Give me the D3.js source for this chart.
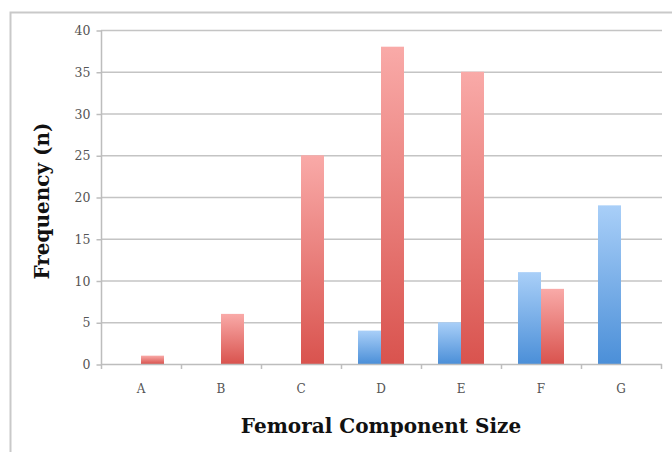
<!DOCTYPE html>
<html><head><meta charset="utf-8">
<script src="https://cdn.jsdelivr.net/npm/d3@7"></script>
<style>body{margin:0;background:#fff}svg{display:block}</style>
</head><body>
<svg id="c" width="672" height="452"></svg>
<script>
const categories = ["A","B","C","D","E","F","G"];
const blueValues = [0,0,0,4,5,11,19];
const redValues  = [1,6,25,38,35,9,0];
const yTicks = [0,5,10,15,20,25,30,35,40];

const svg = d3.select("#c");
const W = 672, H = 452;

// outer frame
svg.append("rect").attr("x",10.5).attr("y",12.5).attr("width",W+20).attr("height",H+20)
  .attr("fill","none").attr("stroke","#c9c9c9").attr("stroke-width",2);

const defs = svg.append("defs");
function grad(id, top, bot){
  const g = defs.append("linearGradient").attr("id",id).attr("x1",0).attr("y1",0).attr("x2",0).attr("y2",1);
  g.append("stop").attr("offset","0%").attr("stop-color",top);
  g.append("stop").attr("offset","100%").attr("stop-color",bot);
}
grad("gb","#a9cff8","#4b8fd8");
grad("gr","#f9aaa8","#d9534e");

const x = d3.scaleBand().domain(categories).range([101,661]);
const y = d3.scaleLinear().domain([0,40]).range([364,30]);
const barW = 23;

// gridlines
svg.append("g").selectAll("line").data(yTicks.filter(d=>d>0)).join("line")
  .attr("x1",101).attr("x2",662).attr("y1",d=>y(d)+0.5).attr("y2",d=>y(d)+0.5)
  .attr("stroke","#c4c4c4").attr("stroke-width",1.5);

// y axis
const ya = svg.append("g").attr("transform","translate(101.5,0.5)")
  .call(d3.axisLeft(y).tickValues(yTicks).tickSize(5).tickPadding(6));
ya.select(".domain").attr("stroke","#bdbdbd").attr("stroke-width",1.5).attr("d","M0,"+y(40)+"V"+y(0));
ya.selectAll(".tick line").attr("stroke","#bdbdbd").attr("stroke-width",1.5);
ya.selectAll(".tick text").attr("fill","#555").attr("font-family","DejaVu Serif, serif").attr("font-size",12.5);

// bars
const gBars = svg.append("g");
categories.forEach((c,i)=>{
  const cx = x(c) + x.bandwidth()/2;
  if (blueValues[i] > 0)
    gBars.append("rect").attr("x",cx-barW).attr("width",barW)
      .attr("y",y(blueValues[i])).attr("height",y(0)-y(blueValues[i])).attr("fill","url(#gb)");
  if (redValues[i] > 0)
    gBars.append("rect").attr("x",cx).attr("width",barW)
      .attr("y",y(redValues[i])).attr("height",y(0)-y(redValues[i])).attr("fill","url(#gr)");
});

// x axis
const xa = svg.append("g").attr("transform","translate(0,364.5)")
  .call(d3.axisBottom(x).tickSize(0).tickPadding(20));
xa.select(".domain").attr("stroke","#bdbdbd").attr("stroke-width",1.5).attr("d","M101,0H662");
xa.selectAll(".tick text").attr("fill","#555").attr("font-family","DejaVu Serif, serif").attr("font-size",12);
// category boundary ticks
svg.append("g").selectAll("line").data(categories.concat(["end"])).join("line")
  .attr("x1",(d,i)=>101+i*x.bandwidth()+0.5).attr("x2",(d,i)=>101+i*x.bandwidth()+0.5)
  .attr("y1",364).attr("y2",369).attr("stroke","#bdbdbd").attr("stroke-width",1.5);

// titles
svg.append("text").attr("x",381).attr("y",433).attr("text-anchor","middle")
  .attr("font-family","DejaVu Serif, serif").attr("font-weight","bold").attr("font-size",20)
  .attr("fill","#111").text("Femoral Component Size");
svg.append("text").attr("transform","translate(49,201) rotate(-90)").attr("text-anchor","middle")
  .attr("font-family","DejaVu Serif, serif").attr("font-weight","bold").attr("font-size",20)
  .attr("fill","#111").text("Frequency (n)");
</script>
</body></html>
